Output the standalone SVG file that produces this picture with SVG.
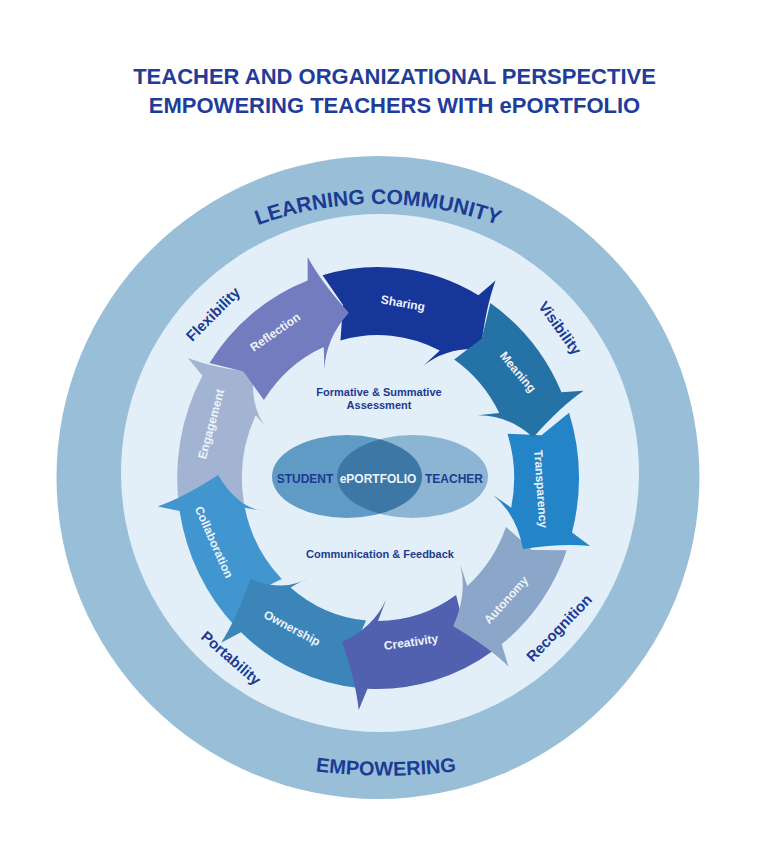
<svg xmlns="http://www.w3.org/2000/svg" width="768" height="853" viewBox="0 0 768 853">
<defs>
<style>
.title{font-family:"Liberation Sans",Arial,sans-serif;font-weight:bold;font-size:22px;fill:#1f3d99;text-anchor:middle}
.ring{font-family:"Liberation Sans",Arial,sans-serif;font-weight:bold;font-size:21px;fill:#1b3b94}
.lbl{font-family:"Liberation Sans",Arial,sans-serif;font-weight:bold;font-size:15px;fill:#1b3b94;text-anchor:middle}
.arr{font-family:"Liberation Sans",Arial,sans-serif;font-weight:bold;font-size:12px;fill:#eef3fa;text-anchor:middle}
.ctr{font-family:"Liberation Sans",Arial,sans-serif;font-weight:bold;font-size:11px;fill:#1d3a8f;text-anchor:middle}
.ell{font-family:"Liberation Sans",Arial,sans-serif;font-weight:bold;font-size:12px;text-anchor:middle}
</style>
<path id="arcTop" d="M128,309 A350,350 0 0 1 628,309"/>
<path id="arcBot" d="M186,738 A550,550 0 0 0 586,738"/>
<clipPath id="clipL"><ellipse cx="347" cy="476.5" rx="75" ry="41.5"/></clipPath>
</defs>
<rect width="768" height="853" fill="#ffffff"/>
<g id="title">
<text class="title" x="394.5" y="84">TEACHER AND ORGANIZATIONAL PERSPECTIVE</text>
<text class="title" x="394.5" y="113">EMPOWERING TEACHERS WITH ePORTFOLIO</text>
</g>
<g id="outer-ring">
<circle cx="378" cy="477.5" r="321.5" fill="#99bfd8"/>
<text class="ring"><textPath href="#arcTop" startOffset="50%" text-anchor="middle">LEARNING COMMUNITY</textPath></text>
<text class="ring" style="font-size:20px"><textPath href="#arcBot" startOffset="50%" text-anchor="middle">EMPOWERING</textPath></text>
</g>
<g id="inner-circle">
<circle cx="380" cy="473" r="259" fill="#e3eff8"/>
</g>
<g id="qualities">
<text class="lbl" transform="translate(213,314) rotate(-45)" dy="0.35em">Flexibility</text>
<text class="lbl" transform="translate(560,328) rotate(54)" dy="0.35em">Visibility</text>
<text class="lbl" transform="translate(559,628) rotate(-46)" dy="0.35em">Recognition</text>
<text class="lbl" transform="translate(231,658) rotate(41)" dy="0.35em">Portability</text>
</g>
<g id="arrows">
<g id="sharing">
<path transform="matrix(0.952 0 0 1 378 478)" fill="#17369a" d="M-58.2,-202.8 A211,211 0 0 1 105.5,-182.7 L123.5,-197.6 Q113.1,-171.0 108.0,-128.7 Q72.7,-131.2 47.7,-112.3 L64.9,-127.4 A143,143 0 0 0 -39.4,-137.5 L-36.8,-173.1 Z"/>
<text class="arr" transform="translate(403,303) rotate(10)" dy="0.35em">Sharing</text>
</g>
<g id="engagement">
<path transform="matrix(0.952 0 0 1 378 478)" fill="#a3b4d2" d="M-207.8,36.6 A211,211 0 0 1 -184.5,-102.3 L-199.7,-120.0 Q-172.9,-110.1 -130.6,-105.7 Q-134.8,-65.8 -113.1,-45.7 L-128.5,-62.7 A143,143 0 0 0 -140.8,24.8 L-176.0,18.5 Z"/>
<text class="arr" transform="translate(211,424) rotate(-75)" dy="0.35em">Engagement</text>
</g>
<g id="collaboration">
<path transform="matrix(0.952 0 0 1 378 478)" fill="#4196d0" d="M-149.2,149.2 A211,211 0 0 1 -208.4,33.0 L-231.3,28.4 Q-204.1,19.6 -168.0,-2.9 Q-146.7,31.2 -117.3,33.6 L-139.9,29.7 A143,143 0 0 0 -101.1,101.1 L-133.6,116.1 Z"/>
<text class="arr" transform="translate(214,542) rotate(66)" dy="0.35em">Collaboration</text>
</g>
<g id="ownership">
<path transform="matrix(0.952 0 0 1 378 478)" fill="#3c85b9" d="M-18.4,210.2 A211,211 0 0 1 -143.9,154.3 L-164.8,164.8 Q-148.7,141.1 -134.2,101.1 Q-96.4,114.9 -71.7,98.7 L-91.9,109.5 A143,143 0 0 0 -12.5,142.5 L-27.7,174.8 Z"/>
<text class="arr" transform="translate(292,628) rotate(28)" dy="0.35em">Ownership</text>
</g>
<g id="creativity">
<path transform="matrix(0.952 0 0 1 378 478)" fill="#5160af" d="M121.0,172.8 A211,211 0 0 1 -11.0,210.7 L-20.3,232.1 Q-23.2,203.7 -37.8,163.7 Q-5.2,149.9 8.5,121.7 L0,143 A143,143 0 0 0 82.0,117.1 L91.2,151.7 Z"/>
<text class="arr" transform="translate(411,642) rotate(-8)" dy="0.35em">Creativity</text>
</g>
<g id="autonomy">
<path transform="matrix(0.952 0 0 1 378 478)" fill="#8ba6c8" d="M198.3,72.2 A211,211 0 0 1 129.9,166.3 L137.0,188.5 Q116.1,168.9 78.9,148.3 Q94.4,116.6 86.3,86.3 L93.8,107.9 A143,143 0 0 0 134.4,48.9 L161.7,72.0 Z"/>
<text class="arr" transform="translate(506,600) rotate(-48)" dy="0.35em">Autonomy</text>
</g>
<g id="transparency">
<path transform="matrix(0.952 0 0 1 378 478)" fill="#2384c7" d="M200.7,-65.2 A211,211 0 0 1 203.8,54.6 L222.8,68.1 Q194.4,65.0 152.3,71.0 Q145.5,36.3 120.8,17.0 L139.9,29.7 A143,143 0 0 0 136.0,-44.2 L171.7,-42.8 Z"/>
<text class="arr" transform="translate(541,489) rotate(86)" dy="0.35em">Transparency</text>
</g>
<g id="meaning">
<path transform="matrix(0.952 0 0 1 378 478)" fill="#2472a6" d="M118.0,-174.9 A211,211 0 0 1 192.7,-85.8 L216.0,-87.3 Q192.0,-71.8 163.0,-40.6 Q135.9,-63.4 104.6,-62.8 L127.4,-64.9 A143,143 0 0 0 80.0,-118.5 L109.0,-139.5 Z"/>
<text class="arr" transform="translate(518,372) rotate(50)" dy="0.35em">Meaning</text>
</g>
<g id="reflection">
<path transform="matrix(0.952 0 0 1 378 478)" fill="#727cbe" d="M-177.0,-114.9 A211,211 0 0 1 -73.9,-197.6 L-73.9,-221.0 Q-59.9,-196.0 -30.6,-165.2 Q-55.0,-139.6 -56.3,-108.2 L-57.0,-131.1 A143,143 0 0 0 -119.9,-77.9 L-141.4,-106.5 Z"/>
<text class="arr" transform="translate(275,332) rotate(-35)" dy="0.35em">Reflection</text>
</g>
</g>
<g id="assessment">
<text class="ctr" x="379" y="396">Formative &amp; Summative</text>
<text class="ctr" x="379" y="409">Assessment</text>
</g>
<g id="eportfolio">
<ellipse cx="347" cy="476.5" rx="75" ry="41.5" fill="#5f9bc4"/>
<ellipse cx="412.5" cy="476.5" rx="75.5" ry="41.5" fill="#8cb5d4"/>
<ellipse cx="412.5" cy="476.5" rx="75.5" ry="41.5" fill="#3d77a6" clip-path="url(#clipL)"/>
<text class="ell" x="305" y="483" fill="#1d3a8f">STUDENT</text>
<text class="ell" x="378" y="483" fill="#eef3fa">ePORTFOLIO</text>
<text class="ell" x="454" y="483" fill="#1d3a8f">TEACHER</text>
</g>
<g id="communication">
<text class="ctr" x="380" y="558">Communication &amp; Feedback</text>
</g>
</svg>
